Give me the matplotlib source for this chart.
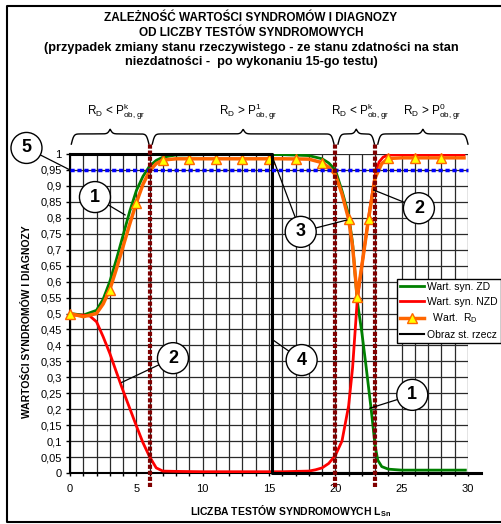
import numpy as np
import matplotlib.pyplot as plt
from matplotlib.patches import Ellipse
from matplotlib.lines import Line2D

plt.rcParams['font.family'] = ['Liberation Sans', 'DejaVu Sans']
plt.rcParams['mathtext.default'] = 'regular'

# syndrome value for "zdatny" state (green)
zd_x = [0, 1, 2, 2.5, 3, 3.5, 4, 4.5, 5, 5.5, 6, 6.5, 7, 8, 10, 12, 14, 16, 18, 19, 19.5,
        20, 20.5, 21, 21.3, 21.65, 22, 22.3, 22.7, 23, 23.2, 23.5, 24, 25, 27, 29.8]
zd_y = [0.5, 0.495, 0.51, 0.545, 0.6, 0.67, 0.745, 0.82, 0.885, 0.93, 0.962, 0.98, 0.99, 0.997,
        0.998, 0.998, 0.998, 0.998, 0.995, 0.985, 0.972, 0.95, 0.885, 0.81, 0.72, 0.54, 0.44,
        0.34, 0.2, 0.085, 0.04, 0.02, 0.012, 0.009, 0.009, 0.009]

# syndrome value for "niezdatny" state (red)
nzd_x = [0, 1, 1.5, 2, 2.5, 3, 3.5, 4, 4.5, 5, 5.5, 6, 6.5, 7, 8, 10, 12, 14, 16, 18, 18.5,
         19, 19.5, 20, 20.5, 21, 21.3, 21.65, 22, 22.5, 23, 23.3, 23.6, 24, 25, 27, 29.7]
nzd_y = [0.495, 0.495, 0.492, 0.474, 0.427, 0.375, 0.316, 0.258, 0.203, 0.148, 0.095, 0.051,
         0.016, 0.006, 0.005, 0.004, 0.004, 0.004, 0.004, 0.006, 0.01, 0.016, 0.03, 0.055, 0.1,
         0.21, 0.33, 0.54, 0.65, 0.8, 0.935, 0.975, 0.99, 0.997, 0.998, 0.998, 0.998]

# diagnosis R_D (orange line + triangles)
rd_x = [0, 1, 2, 2.5, 3, 3.5, 4, 4.5, 5, 5.5, 6, 6.5, 7, 8, 10, 12, 14, 16, 18, 19, 19.5, 20,
        20.5, 21, 21.3, 21.65, 22, 22.5, 23, 23.5, 24, 25, 27, 29.7]
rd_y = [0.5, 0.49, 0.5, 0.53, 0.575, 0.64, 0.71, 0.78, 0.847, 0.905, 0.947, 0.97, 0.981, 0.985,
        0.985, 0.985, 0.985, 0.985, 0.984, 0.973, 0.958, 0.935, 0.875, 0.796, 0.71, 0.553, 0.65,
        0.796, 0.925, 0.97, 0.986, 0.988, 0.988, 0.988]
rd_mark_x = [0, 3, 5, 7, 9, 11, 13, 15, 17, 19, 21, 21.65, 22.5, 24, 26, 28]
rd_mark_y = [0.5, 0.575, 0.847, 0.981, 0.985, 0.985, 0.985, 0.985, 0.985, 0.973, 0.796, 0.553,
             0.796, 0.986, 0.988, 0.988]

# real state image
obraz_x = [0, 15.2, 15.2, 31]
obraz_y = [1, 1, 0, 0]

limit = 0.95
borders = [6, 20, 23]

brace_spans = [(0.1, 5.95), (6.2, 19.9), (20.2, 22.95), (23.2, 30.0)]
brace_labels = ['R$_D$ < P$^k_{ob,gr}$', 'R$_D$ > P$^1_{ob,gr}$',
                'R$_D$ < P$^k_{ob,gr}$', 'R$_D$ > P$^0_{ob,gr}$']
brace_label_x = [3.5, 13.4, 21.9, 27.3]

callouts = [
    ('5', -3.28, 1.019, [(0, 0.95)]),
    ('1', 1.88, 0.865, [(4.15, 0.809)]),
    ('2', 7.76, 0.36, [(3.9, 0.284)]),
    ('3', 17.39, 0.756, [(15.2, 0.997), (20.86, 0.793)]),
    ('2', 26.3, 0.83, [(22.9, 0.887)]),
    ('4', 17.46, 0.354, [(15.3, 0.417)]),
    ('1', 25.8, 0.245, [(22.6, 0.203)]),
]

W, H = 501, 524
PX_X = 398 / 30.0   # pixels per x unit
PX_Y = 319 / 1.0    # pixels per y unit

fig = plt.figure(figsize=(W / 100, H / 100), dpi=100)
ax = fig.add_axes([70 / W, 51 / H, 398 / W, 319 / H])
ax.set_xlim(0, 30)
ax.set_ylim(0, 1)

# outer frame of the chart (right side is cut off in the original)
frame_x = [1.05, 7 / W, 7 / W, 1.05]
frame_y = [1 - 6 / H, 1 - 6 / H, 2 / H, 2 / H]
fig.add_artist(Line2D(frame_x, frame_y, transform=fig.transFigure, color='black', lw=1.5))

ax.spines['top'].set_visible(False)
ax.spines['right'].set_visible(False)
ax.spines['left'].set_linewidth(1.5)
ax.spines['bottom'].set_linewidth(1.5)

ax.set_xticks(np.arange(0, 31))
ax.set_xticklabels([str(v) if v % 5 == 0 else '' for v in range(31)])
yt = np.round(np.arange(0, 1.0001, 0.05), 2)
ax.set_yticks(yt)
ax.set_yticklabels([('%g' % v).replace('.', ',') for v in yt])
ax.tick_params(axis='both', direction='out', length=3, width=1, labelsize=8, pad=3)
ax.tick_params(axis='x', length=2, pad=6)
ax.grid(True, color='#2a2a2a', lw=0.9, zorder=1)
ax.set_axisbelow(True)

ax.plot(zd_x, zd_y, color='#008000', lw=2, zorder=3)
ax.plot(nzd_x, nzd_y, color='#ff0000', lw=2, zorder=3)
ax.plot(rd_x, rd_y, color='#ff6600', lw=2.5, zorder=4)
ax.plot(rd_mark_x, rd_mark_y, ls='none', marker='^', ms=7.5, mfc='#ffff00', mec='#ff6600',
        mew=1, zorder=5, clip_on=False)
ax.plot(obraz_x, obraz_y, color='black', lw=2.2, zorder=6, clip_on=False)

ax.hlines(limit, 0, 30, color='#0000ff', lw=2.5, linestyles=(0, (1.2, 0.8)), zorder=7,
          clip_on=False)
ax.vlines(borders, -0.045, 1.03, color='#800000', lw=3, linestyles=(0, (1, 0.45)), zorder=8,
          clip_on=False)


def brace(x0, x1, y_end=1.031, y_flat=1.063, y_tip=1.078):
    xs = np.linspace(x0, x1, 400)
    d_end = np.minimum(xs - x0, x1 - xs) * PX_X
    d_mid = np.abs(xs - (x0 + x1) / 2) * PX_X
    ys = y_end + (y_flat - y_end) * np.tanh(d_end / 2.5) \
        + (y_tip - y_flat) * (1 - np.tanh(d_mid / 2.5))
    ax.plot(xs, ys, color='black', lw=1, clip_on=False)


for (x0, x1), lab, lx in zip(brace_spans, brace_labels, brace_label_x):
    brace(x0, x1)
    ax.text(lx, 1.132, lab, ha='center', va='center', fontsize=8.5)

# numbered callouts
r = 15.5
for num, cx, cy, targets in callouts:
    ax.add_patch(Ellipse((cx, cy), 2 * r / PX_X, 2 * r / PX_Y, fc='white', ec='black', lw=1,
                         zorder=10, clip_on=False))
    ax.text(cx, cy, num, ha='center', va='center', fontsize=13, fontweight='bold', zorder=11)
    for tx, ty in targets:
        dx = (tx - cx) * PX_X
        dy = (ty - cy) * PX_Y
        L = np.hypot(dx, dy)
        sx = cx + r * dx / L / PX_X
        sy = cy + r * dy / L / PX_Y
        ax.plot([sx, tx], [sy, ty], color='black', lw=0.9, zorder=9, clip_on=False)

# titles
title_lines = ['ZALEŻNOŚĆ WARTOŚCI SYNDROMÓW I DIAGNOZY',
               'OD LICZBY TESTÓW SYNDROMOWYCH',
               '(przypadek zmiany stanu rzeczywistego - ze stanu zdatności na stan',
               'niezdatności -  po wykonaniu 15-go testu)']
title_sizes = [8.45, 8.45, 9.2, 9.2]
for i, t in enumerate(title_lines):
    fig.text(251 / W, 1 - (18 + 14.8 * i) / H, t, ha='center', va='center',
             fontsize=title_sizes[i], fontweight='bold')

fig.text(27 / W, 1 - 322 / H, 'WARTOŚCI SYNDROMÓW I DIAGNOZY', rotation=90, ha='center',
         va='center', fontsize=7.5, fontweight='bold')
fig.text(291 / W, 1 - 511 / H, 'LICZBA TESTÓW SYNDROMOWYCH L$_{Sn}$', ha='center',
         va='center', fontsize=7.5, fontweight='bold')

handles = [Line2D([], [], color='#008000', lw=2),
           Line2D([], [], color='#ff0000', lw=2),
           Line2D([], [], color='#ff6600', lw=2.5, marker='^', ms=7, mfc='#ffff00',
                  mec='#ff6600'),
           Line2D([], [], color='black', lw=1.5)]
labels = ['Wart. syn. ZD', 'Wart. syn. NZD', '  Wart.  R$_D$', 'Obraz st. rzecz']
leg = fig.legend(handles, labels, loc='upper left', bbox_to_anchor=(397 / W, 1 - 279 / H),
                 fontsize=7.5, frameon=True, fancybox=False, edgecolor='black', framealpha=1,
                 borderpad=0.3, labelspacing=0.45, handlelength=2.3, handletextpad=0.3,
                 borderaxespad=0)
leg.get_frame().set_linewidth(1)

fig.savefig('out.png', dpi=100)
